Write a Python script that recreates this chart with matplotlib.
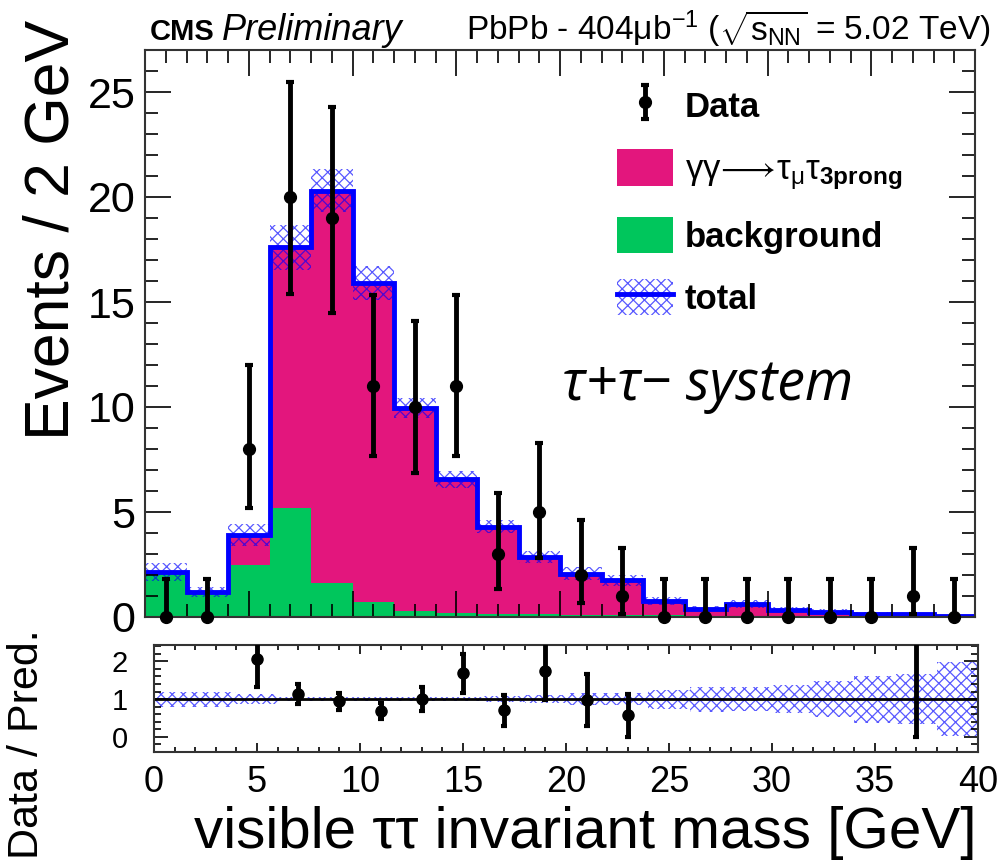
import numpy as np
import matplotlib.pyplot as plt
from matplotlib.patches import Patch
from matplotlib.lines import Line2D
from matplotlib.legend_handler import HandlerTuple
from matplotlib.ticker import MultipleLocator

plt.rcParams['font.family'] = ['Liberation Sans', 'DejaVu Sans']
plt.rcParams['mathtext.fontset'] = 'custom'
plt.rcParams['mathtext.rm'] = 'Liberation Sans'
plt.rcParams['mathtext.it'] = 'Liberation Sans:italic'
plt.rcParams['mathtext.bf'] = 'Liberation Sans:bold'
plt.rcParams['hatch.linewidth'] = 0.9

# 2 GeV bins, 0-40 GeV
bin_edges = np.arange(0, 42, 2)
background = [2.1, 1.2, 2.5, 5.2, 1.6, 0.7, 0.3, 0.2, 0.15, 0.12,
              0.1, 0.08, 0.08, 0.07, 0.06, 0.05, 0.05, 0.04, 0.04, 0.03]
signal = [0.05, 0.0, 1.4, 12.4, 18.7, 15.2, 9.65, 6.35, 4.15, 2.73,
          1.95, 1.67, 0.67, 0.33, 0.54, 0.3, 0.2, 0.11, 0.08, 0.02]
# relative uncertainty of the total prediction
rel_unc = [0.2, 0.2, 0.13, 0.06, 0.05, 0.05, 0.05, 0.06, 0.07, 0.1,
           0.15, 0.15, 0.25, 0.33, 0.32, 0.38, 0.47, 0.62, 0.65, 0.97]
data = [0, 0, 8, 20, 19, 11, 10, 11, 3, 5, 2, 1, 0, 0, 0, 0, 0, 0, 1, 0]
data_lo = [0, 0, 2.8, 4.6, 4.5, 3.35, 3.15, 3.35, 1.67, 2.2,
           1.33, 0.85, 0, 0, 0, 0, 0, 0, 0.85, 0]
data_hi = [1.8, 1.8, 4.0, 5.5, 5.3, 4.33, 4.1, 4.33, 2.9, 3.3,
           2.6, 2.3, 1.8, 1.8, 1.8, 1.8, 1.8, 1.8, 2.3, 1.8]

magenta = '#e3167d'
green = '#00c65c'
hatch_col = (0, 0, 1, 0.65)
hatch = 'xxx'

total = np.array(background) + np.array(signal)
rel = np.array(rel_unc)
data = np.array(data, dtype=float)
centers = 0.5 * (bin_edges[1:] + bin_edges[:-1])

fig = plt.figure(figsize=(9.97, 8.61), dpi=100)
ax = fig.add_axes([145 / 997, 1 - 617 / 861, 830 / 997, 567 / 861])
rax = fig.add_axes([154 / 997, 1 - 752 / 861, 824 / 997, 107 / 861])

# main panel
ax.stairs(background, bin_edges, fill=True, color=green, lw=0)
ax.stairs(total, bin_edges, baseline=background, fill=True, color=magenta, lw=0)
ax.stairs(total * (1 + rel), bin_edges, baseline=total * (1 - rel), fill=True,
          facecolor='none', edgecolor=hatch_col, hatch=hatch, lw=0)
ax.stairs(total, bin_edges, baseline=None, color='blue', lw=3.5)
h_data = ax.errorbar(centers, data, yerr=[data_lo, data_hi], fmt='o', color='black',
                     ms=8.5, elinewidth=3.5, capsize=3, capthick=3, clip_on=False, zorder=5)

ax.set_xlim(0, 40)
ax.set_ylim(0, 27)
ax.xaxis.set_major_locator(MultipleLocator(5))
ax.xaxis.set_minor_locator(MultipleLocator(1))
ax.yaxis.set_major_locator(MultipleLocator(5))
ax.yaxis.set_minor_locator(MultipleLocator(1))
ax.tick_params(which='both', direction='in', top=True, right=True, width=1.2,
               labelbottom=False, labelsize=31, pad=7)
ax.tick_params(which='major', length=19)
ax.tick_params(which='minor', length=9.5)

# ratio panel
mask = data > 0
ratio = data[mask] / total[mask]
ratio_err = np.sqrt(data[mask]) / total[mask]
rax.stairs(1 + rel, bin_edges, baseline=1 - rel, fill=True,
           facecolor='none', edgecolor=hatch_col, hatch=hatch, lw=0)
rax.axhline(1, color='black', lw=2)
rax.errorbar(centers[mask], ratio, yerr=ratio_err, fmt='o', color='black',
             ms=8, elinewidth=3.5, capsize=2.5, capthick=3, zorder=5)
rax.set_xlim(0, 40)
rax.set_ylim(-0.4, 2.43)
rax.xaxis.set_major_locator(MultipleLocator(5))
rax.xaxis.set_minor_locator(MultipleLocator(1))
rax.yaxis.set_major_locator(MultipleLocator(1))
rax.yaxis.set_minor_locator(MultipleLocator(0.2))
rax.tick_params(which='both', direction='in', top=True, right=True, width=1.2)
rax.tick_params(axis='x', which='major', length=6.5, labelsize=26, pad=9)
rax.tick_params(axis='x', which='minor', length=3.5)
rax.tick_params(axis='y', which='major', length=10, labelsize=21, pad=19)
rax.tick_params(axis='y', which='minor', length=5)

for a in (ax, rax):
    for s in a.spines.values():
        s.set_color('#333333')
        s.set_linewidth(1.5)

# legend
h_total = (Patch(facecolor='none', edgecolor=hatch_col, hatch=hatch, lw=0),
           Line2D([], [], color='blue', lw=3.5))
handles = [h_data, Patch(facecolor=magenta), Patch(facecolor=green), h_total]
labels = ['Data',
          r'$\mathrm{\gamma\gamma}\!\longrightarrow\!\mathrm{\tau_{\mu}\tau}_{\mathbf{3prong}}$',
          'background', 'total']
leg = ax.legend(handles, labels, loc='upper left', bbox_to_anchor=(0.569, 0.935),
                frameon=False, prop=dict(weight='bold', size=25),
                handlelength=1.6, handleheight=1.25, labelspacing=0.72,
                handletextpad=0.35, borderaxespad=0, borderpad=0,
                handler_map={tuple: HandlerTuple(ndivide=1)})
leg.get_texts()[1].set_fontweight('normal')

ax.text(0.502, 0.409, 'τ+τ− system', transform=ax.transAxes, ha='left', va='center',
        fontsize=40, style='italic', family=['Open Sans', 'DejaVu Sans'])

# header and axis titles
fig.text(150 / 997, 1 - 40 / 861, 'CMS', weight='bold', fontsize=21, va='baseline')
fig.text(222 / 997, 1 - 40 / 861, 'Preliminary', style='italic', fontsize=26, va='baseline')
fig.text(990 / 997, 1 - 40 / 861,
         r'PbPb - 404μb$^{-1}$ ($\sqrt{\mathrm{s}_{\mathrm{NN}}}$ = 5.02 TeV)',
         ha='right', fontsize=24, va='baseline')
fig.text(52 / 997, 1 - 230 / 861, 'Events / 2 GeV', rotation=90,
         ha='center', va='center', fontsize=45)
fig.text(585 / 997, 1 - 833 / 861, 'visible ττ invariant mass [GeV]',
         ha='center', va='center', fontsize=42)
fig.text(27 / 997, 1 - 744 / 861, 'Data / Pred.', rotation=90,
         ha='center', va='center', fontsize=31)

fig.savefig('out.png', dpi=100)
